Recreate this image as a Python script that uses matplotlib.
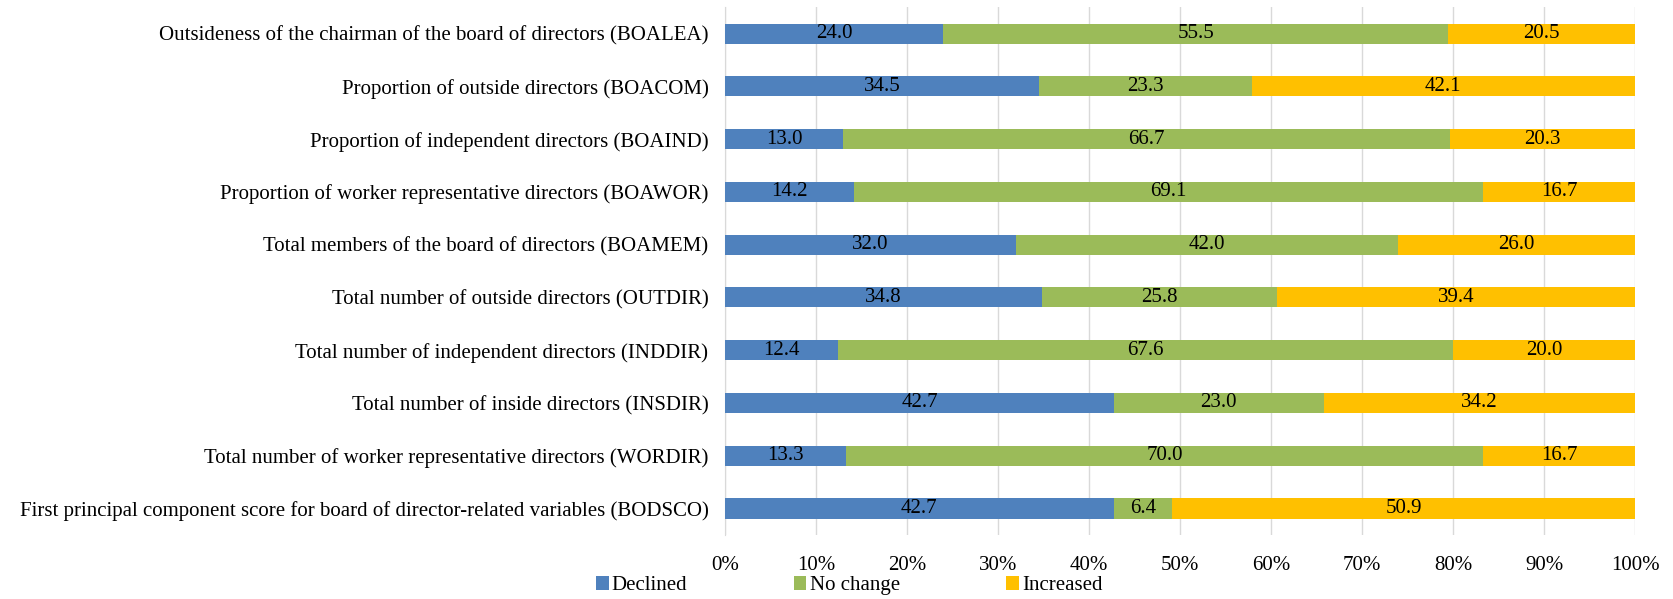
import numpy as np
import matplotlib
matplotlib.use('Agg')
import matplotlib.pyplot as plt
from matplotlib.patches import Patch
from matplotlib.ticker import PercentFormatter

plt.rcParams['font.family'] = ['Liberation Serif', 'DejaVu Serif']

# categories, top to bottom
categories = [
    'Outsideness of the chairman of the board of directors (BOALEA)',
    'Proportion of outside directors (BOACOM)',
    'Proportion of independent directors (BOAIND)',
    'Proportion of worker representative directors (BOAWOR)',
    'Total members of the board of directors (BOAMEM)',
    'Total number of outside directors (OUTDIR)',
    'Total number of independent directors (INDDIR)',
    'Total number of inside directors (INSDIR)',
    'Total number of worker representative directors (WORDIR)',
    'First principal component score for board of director-related variables (BODSCO)',
]
declined = [24.0, 34.5, 13.0, 14.2, 32.0, 34.8, 12.4, 42.7, 13.3, 42.7]
no_change = [55.5, 23.3, 66.7, 69.1, 42.0, 25.8, 67.6, 23.0, 70.0, 6.4]
increased = [20.5, 42.1, 20.3, 16.7, 26.0, 39.4, 20.0, 34.2, 16.7, 50.9]

series = [('Declined', declined, '#4F81BD'),
          ('No change', no_change, '#9BBB59'),
          ('Increased', increased, '#FFC000')]

fig = plt.figure(figsize=(16.73, 5.99), dpi=100)
ax = fig.add_axes([0.4334, 0.107, 0.5439, 0.881])

y = np.arange(len(categories))
totals = np.array(declined) + np.array(no_change) + np.array(increased)
left = np.zeros(len(categories))
for name, vals, col in series:
    vals = np.array(vals)
    w = vals / totals * 100
    ax.barh(y, w, left=left, height=0.38, color=col, label=name, zorder=3)
    for yi, l, wi, v in zip(y, left, w, vals):
        ax.text(l + wi / 2, yi, '%.1f' % v, ha='center', va='center',
                fontsize=15, color='black', zorder=4)
    left = left + w

ax.set_xlim(0, 100)
ax.set_ylim(len(categories) - 0.5, -0.5)
ax.set_yticks(y)
ax.set_yticklabels(categories, fontsize=15)
ax.set_xticks(np.arange(0, 101, 10))
ax.xaxis.set_major_formatter(PercentFormatter(decimals=0))
ax.tick_params(axis='x', labelsize=15, length=0, pad=15)
ax.tick_params(axis='y', length=0, pad=12)
ax.grid(axis='x', color='#D9D9D9', linewidth=1, zorder=0)
for s in ['top', 'right', 'bottom']:
    ax.spines[s].set_visible(False)
ax.spines['left'].set_color('#D9D9D9')

handles = [Patch(facecolor=c, label=n) for n, _, c in series]
fig.legend(handles=handles, loc='center', bbox_to_anchor=(0.5075, 0.022),
           ncol=3, frameon=False, fontsize=15, handlelength=0.62,
           handleheight=0.62, handletextpad=0.15, columnspacing=5.1,
           borderpad=0.2)

fig.savefig('out.png', dpi=100)
